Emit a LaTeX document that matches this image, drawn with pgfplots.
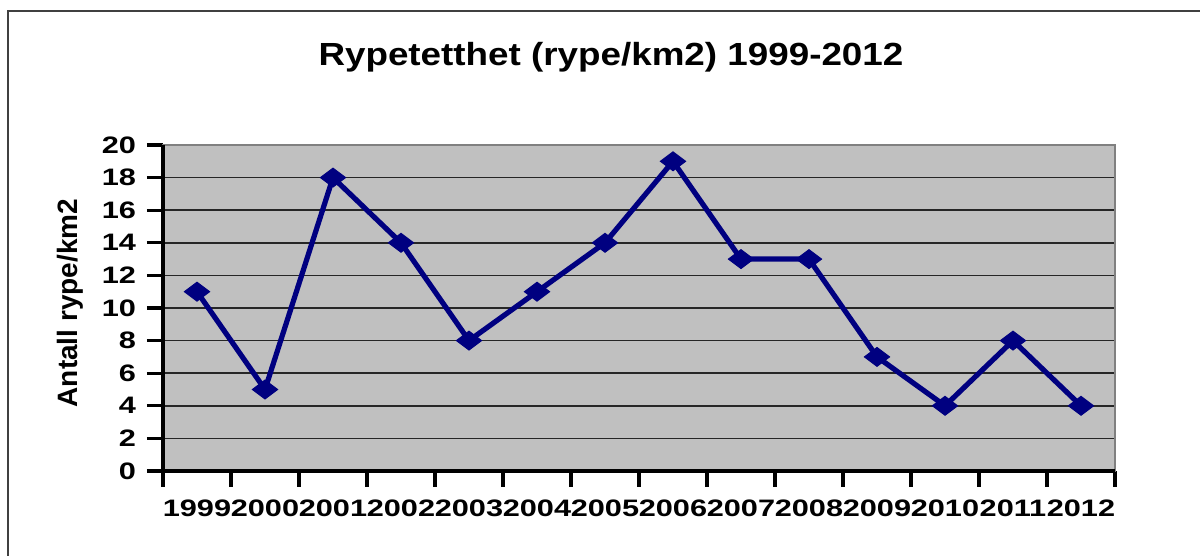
\documentclass[border=0pt]{standalone}
\usepackage{fontspec}
\setmainfont{Liberation Sans}
\newfontfamily\tickfont[FakeStretch=1.29]{Liberation Sans}
\newfontfamily\titlefont[FakeStretch=1.15]{Liberation Sans}
\usepackage{pgfplots}
\pgfplotsset{compat=1.18}
\definecolor{plotbg}{HTML}{C0C0C0}
\definecolor{navyline}{HTML}{000080}
\definecolor{framegray}{HTML}{404040}
\begin{document}
\begin{tikzpicture}[x=0.5pt,y=0.5pt]
\useasboundingbox (0,0) rectangle (1200,556);
\fill[white] (0,0) rectangle (1200,556);
\draw[framegray, line width=1.1pt] (8,0) -- (8,545) -- (1200,545);
\node[anchor=base, font=\titlefont\bfseries\fontsize{16}{19}\selectfont] at (611,490) {Rypetetthet (rype/km2) 1999-2012};
\node[rotate=90, font=\bfseries\fontsize{14}{16}\selectfont] at (70,253) {Antall rype/km2};
\begin{axis}[
  at={(81.5pt,42.5pt)}, anchor=south west,
  scale only axis, width=476pt, height=163pt,
  xmin=-0.5, xmax=13.5, ymin=0, ymax=20,
  axis background/.style={fill=plotbg},
  axis line style={gray, line width=0.6pt},
  xtick={0,...,13},
  xticklabels={1999,2000,2001,2002,2003,2004,2005,2006,2007,2008,2009,2010,2011,2012},
  major x tick style={draw=none},
  minor xtick={-0.5,0.5,...,13.5},
  minor x tick style={black, line width=1.6pt},
  minor tick length=8pt,
  ytick={0,2,...,20},
  major y tick style={black, line width=1.6pt},
  major tick length=8pt,
  tick align=outside,
  xtick pos=bottom, ytick pos=left,
  ymajorgrids,
  grid style={black!85, line width=0.8pt},
  /pgf/number format/assume math mode=true,
  ticklabel style={font=\tickfont\bfseries\fontsize{11.9}{14}\selectfont},
  xticklabel style={yshift=-3pt},
  yticklabel style={xshift=-2pt},
  clip=false,
]
\addplot[navyline, line width=2.6pt, mark=diamond*, mark size=6.3pt,
  mark options={rotate=90, solid, fill=navyline, line width=0.5pt}]
  coordinates {(0,11) (1,5) (2,18) (3,14) (4,8) (5,11) (6,14) (7,19) (8,13) (9,13) (10,7) (11,4) (12,8) (13,4)};
\draw[black, line width=2pt] (rel axis cs:0,1) -- (rel axis cs:0,0) -- (rel axis cs:1,0);
\end{axis}
\end{tikzpicture}
\end{document}
